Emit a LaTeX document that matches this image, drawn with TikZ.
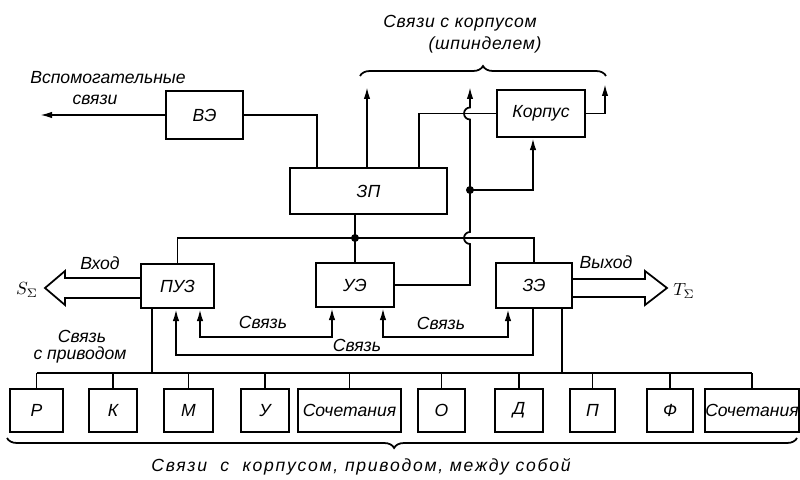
\documentclass[tikz,border=0pt]{standalone}
\usepackage{fontspec}
\setmainfont{Liberation Sans}
\usetikzlibrary{arrows.meta,decorations.pathreplacing}

\begin{document}
\begin{tikzpicture}[x=0.2mm,y=-0.2mm,line width=1pt,
 font=\itshape\fontsize{10}{12}\selectfont,
 blk/.style={draw,line width=1.3pt,inner sep=0pt,minimum height=8.8mm},
 arr/.style={-{Latex[length=2.4mm,width=1.3mm]}},
 biarr/.style={{Latex[length=2.4mm,width=1.3mm]}-{Latex[length=2.4mm,width=1.3mm]}},
 brc/.style={decorate,decoration={brace,amplitude=2mm}}]
\useasboundingbox (0,0) rectangle (800,480);
\node[blk,minimum width=15.4mm,minimum height=9.6mm] (VE) at (204.5,115) {ВЭ};
\node[blk,minimum width=31.4mm,minimum height=9.2mm] (ZP) at (368.5,191) {ЗП};
\node[blk,minimum width=17.6mm,minimum height=9.4mm] (Korp) at (541,113.5) {Корпус};
\node[blk,minimum width=14.6mm] (PUZ) at (177.5,286) {ПУЗ};
\node[blk,minimum width=15.6mm] (UE) at (355,285) {УЭ};
\node[blk,minimum width=15.2mm,minimum height=9mm] (ZE) at (534,285.5) {ЗЭ};
\foreach \n/\x/\w/\t in {R/36.5/10.6/Р,K/113/9.6/К,M/188.5/9.8/М,U/265/9.6/У,
  S1/349.5/20.6/Сочетания,O/441.5/9.4/О,D/519/9.6/Д,P/592.5/9/П,F/670/9.2/Ф,S2/752/18/Сочетания}
  \node[blk,minimum width=\w mm,minimum height=8.6mm] (\n) at (\x,410.5) {\t};
% labels
\node (top1) at (460,23) {\addfontfeatures{LetterSpace=4}Связи с корпусом};
\node (top2) at (485,45) {\addfontfeatures{LetterSpace=4}(шпинделем)};
\node (aux1) at (108,78) {Вспомогательные};
\node (aux2) at (95,100) {связи};
\node (inl) at (100,263) {Вход};
\node (outl) at (606,262) {Выход};
\node (sl) at (27,290) {$S_\Sigma$};
\node (tl) at (684,291) {$T_\Sigma$};
\node (c1) at (263,322) {Связь};
\node (c2) at (357,345) {Связь};
\node (c3) at (441,323) {Связь};
\node (dr1) at (82,336) {Связь};
\node (dr2) at (80,355) {с приводом};
\node (bot) at (361,467) {\addfontfeatures{LetterSpace=10}Связи\ \ с\ \ корпусом,\ приводом,\ между собой};
% upper part
\coordinate (vout) at (40,115);
\coordinate (zpout) at (367,87);
\coordinate (kout) at (605,84);
\coordinate (ktop) at (470,87);
\coordinate (kdot) at (470,190);
\coordinate (bus) at (355,238);
\coordinate (j1) at (ktop |- bus);
\coordinate (j2) at (ktop |- Korp.west);
\draw[arr] (VE.west) -- (vout);
\draw (VE.east) -| (ZP.north -| 317,0);
\draw[arr] (ZP.north -| zpout) -- (zpout);
\draw (ZP.north -| 419,0) |- (Korp.west);
\draw[arr] (Korp.east) -| (kout);
\draw[arr] (UE.east) -| ([yshift=-1.2mm]j1) arc[start angle=-90,end angle=-270,radius=1.2mm]
  -- ([yshift=-1.2mm]j2) arc[start angle=-90,end angle=-270,radius=1.2mm] -- (ktop);
\fill (kdot) circle[radius=0.8mm];
\draw[arr] (kdot) -| (Korp.south -| 533,0);
\draw (PUZ.north) |- (bus) -| (ZE.north);
\draw (ZP.south -| bus) -- (UE.north);
\fill (bus) circle[radius=0.8mm];
% input and output
\coordinate (sin) at (45,288);
\coordinate (tout) at (667,288);
\draw (PUZ.west |- 0,278) -- (65,278) -- (65,271) -- (sin) -- (65,305) -- (65,298) -- (PUZ.west |- 0,298);
\draw (ZE.east |- 0,279) -- (645,279) -- (645,271) -- (tout) -- (645,305) -- (645,297) -- (ZE.east |- 0,297);
% links
\draw[biarr] (PUZ.south -| 200,0) -- (200,337) -| (UE.south -| 332,0);
\draw[biarr] (UE.south -| 383,0) -- (383,337) -| (ZE.south -| 508,0);
\draw[arr] (ZE.south -| 533,0) -- (533,355) -| (PUZ.south -| 176,0);
% lower bus
\coordinate (bl) at (0,373);
\draw (R.north |- bl) -- (S2.north |- bl);
\foreach \n in {R,K,M,U,S1,O,D,P,F,S2} \draw (\n.north) -- (\n.north |- bl);
\draw (PUZ.south -| 152,0) -- (bl -| 152,0);
\draw (ZE.south -| 562,0) -- (bl -| 562,0);
% braces
\draw[brc] (360,76) -- (606,76);
\draw[brc,decoration={aspect=0.51}] (797,438) -- (7,438);
\end{tikzpicture}
\end{document}
